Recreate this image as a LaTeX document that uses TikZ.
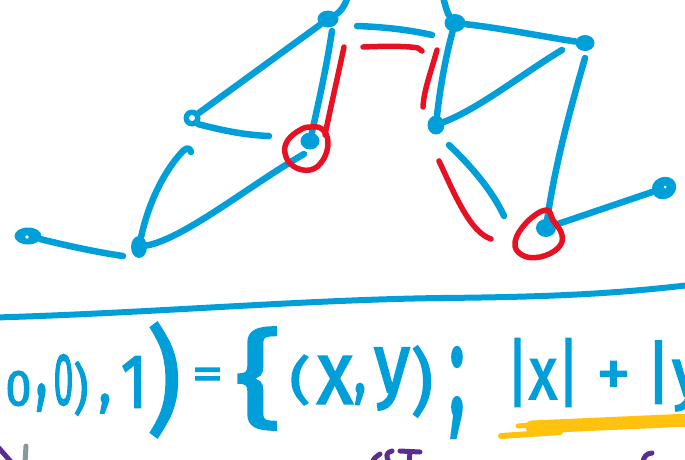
\documentclass[tikz,border=0pt]{standalone}
\usepackage{fontspec}
\newfontfamily\hwfont{Fira Sans}[FakeBold=2.5]
\definecolor{pen}{HTML}{009FDA}
\definecolor{penred}{HTML}{E81123}
\definecolor{penyel}{HTML}{FFC20E}
\definecolor{penpur}{HTML}{5C2D91}
\definecolor{pengray}{HTML}{8A969C}
% glyph resized to a box of width #1 and total height #2
\newcommand\gl[3]{\resizebox*{#1pt}{#2pt}{\hwfont\fontsize{50}{50}\selectfont #3}}
\tikzset{
 bl/.style={draw=pen, line width=6.5pt, line cap=round, line join=round},
 rd/.style={draw=penred, line width=5.5pt, line cap=round, line join=round},
 yl/.style={draw=penyel, line cap=round, line join=round},
 pu/.style={draw=penpur, line width=5pt, line cap=round, line join=round},
 gy/.style={draw=pengray, line width=5pt, line cap=round},
 vx/.style={ellipse, fill=pen, minimum width=19pt, minimum height=17pt, inner sep=0pt},
 hw/.style={text=pen, inner sep=0pt, anchor=center},
}
\usetikzlibrary{shapes.geometric}
\begin{document}
\begin{tikzpicture}[x=1pt,y=-1pt]
\useasboundingbox (0,0) rectangle (685,459);
\clip (0,0) rectangle (685,459);
% graph nodes
\node[vx, minimum width=21pt] (A) at (328,19) {};
\node[vx, minimum width=21pt, minimum height=18pt] (D) at (455,23) {};
\node[vx, minimum width=17pt, minimum height=17pt] (B) at (192,118) {};
\node[vx] (C) at (310,141) {};
\node[vx, minimum width=17pt, minimum height=19pt] (F) at (436,125) {};
\node[vx, minimum width=19pt, minimum height=16pt] (E) at (585,43) {};
\node[vx, minimum width=16pt, minimum height=22pt] (G) at (139,247) {};
\node[vx, minimum width=27pt, minimum height=17pt] (H) at (28,236) {};
\node[vx, minimum width=20pt, minimum height=18pt] (I) at (546,228) {};
\node[vx, minimum width=25pt, minimum height=22pt, rotate=25] (J) at (664,188) {};
\fill[white] (B.center) circle (3pt);
\fill[white] (H.center) ++(-1,1) circle (1.8pt);
\fill[white] (J.center) ++(1,-1) circle (1.5pt);
% free ends
\coordinate (atop) at (348,-4);
\coordinate (dtop) at (443,-4);
\coordinate (a1) at (332,31);
\coordinate (b1) at (269,136);
\coordinate (c1) at (304,154);
\coordinate (g1) at (191,152);
\coordinate (h1) at (123,256);
\coordinate (t1) at (357,26);
\coordinate (t2) at (432,35);
\coordinate (f1) at (562,50);
\coordinate (e1) at (585,58);
\coordinate (f2) at (449,145);
\coordinate (f3) at (504,216);
% blue strokes
\draw[bl] (A) .. controls (340,12) and (345,6) .. (atop);
\draw[bl] (D) .. controls (448,14) and (445,6) .. (dtop);
\draw[bl] (A) -- (B);
\draw[bl] (a1) .. controls (326,70) and (318,105) .. (C);
\draw[bl] (B.south east) .. controls (225,131) and (245,135) .. (b1);
\draw[bl] (c1) .. controls (250,185) and (185,238) .. (G);
\draw[bl] (G) .. controls (148,205) and (163,172) .. (183,151) .. controls (187,147) and (190,148) .. (g1);
\draw[bl] (H) .. controls (60,244) and (95,252) .. (h1);
\draw[bl] (t1) .. controls (385,27) and (410,30) .. (t2);
\draw[bl] (D) .. controls (500,28) and (540,36) .. (E);
\draw[bl] (D) .. controls (446,55) and (440,88) .. (F);
\draw[bl] (F) .. controls (480,108) and (525,72) .. (f1);
\draw[bl] (e1) .. controls (570,110) and (555,165) .. (I);
\draw[bl] (f2) .. controls (470,165) and (492,190) .. (f3);
\draw[bl] (I) -- (J);
% red strokes
\draw[rd] (344,47) .. controls (337,80) and (330,110) .. (325,135);
\draw[rd] (363,47) .. controls (385,46) and (408,46) .. (418,48) -- (422,51);
\draw[rd] (437,50) .. controls (430,75) and (424,90) .. (423,107);
\draw[rd] (439,161) .. controls (455,195) and (470,232) .. (491,239);
\draw[rd] plot[smooth cycle, tension=0.7] coordinates {(300,130) (288,140) (285,153) (293,166) (310,170) (323,160) (328,142) (322,129) (310,127)};
\draw[rd] plot[smooth cycle, tension=0.7] coordinates {(546,210) (527,222) (515,242) (522,255) (540,257) (558,248) (562,235) (553,220)};
% separator
\draw[bl, line width=6pt] (-5,317.5) .. controls (150,313) and (300,300) .. (440,298) .. controls (560,297) and (620,293) .. (690,285);
% formula
\node[hw] (n1) at (18.5,388.5) {\gl{26}{35}{0}};
\node[hw] (n2) at (41.5,397.5) {\gl{12}{27}{,}};
\node[hw] (n3) at (63.5,380) {\gl{20}{51}{0}};
\node[hw] (n4) at (81,388.5) {\gl{15}{54}{)}};
\node[hw] (n5) at (105,403.5) {\gl{13}{19}{,}};
\node[hw] (n6) at (134,382) {\gl{26}{51}{1}};
\node[hw] (n7) at (164,380) {\gl{34}{114}{)}};
\node[hw] (n8) at (207.5,378.5) {\gl{31}{21}{=}};
\node[hw] (n9) at (258.5,378.5) {\gl{46}{102}{\{}};
\node[hw] (n10) at (300,380) {\gl{21}{50}{(}};
\node[hw] (n11) at (335,380) {\gl{36}{47}{x}};
\node[hw] (n12) at (360,394) {\gl{13}{21}{,}};
\node[hw] (n13) at (392,379) {\gl{36}{62}{y}};
\node[hw] (n14) at (422,381.5) {\gl{22}{71}{)}};
\node[hw] (n15) at (457,392.5) {\gl{17}{90}{;}};
\node[hw] (n16) at (543,372.5) {\gl{74}{68}{|x|}};
\node[hw] (n17) at (613.5,378.5) {\gl{34}{34}{+}};
\node[hw] (n18) at (675,376) {\gl{60}{70}{|y}};
% highlight
\draw[yl, line width=13pt] (532,427) -- (690,420);
\draw[yl, line width=6pt] (501,436) -- (560,432);
\draw[yl, line width=5pt] (518,426) -- (540,424);
% cut-off strokes at the bottom edge
\draw[pu] (-2,447) -- (12,463);
\draw[gy] (26,446) -- (25,463);
\draw[pu] (380,454) .. controls (375,457) and (373,460) .. (372,463);
\draw[pu] (392,451) .. controls (386,452) and (385,457) .. (390,463);
\draw[pu] (400,451) -- (420,452);
\draw[pu] (410,452) -- (409,463);
\draw[pu] (652,453) .. controls (646,453) and (643,458) .. (643,463);
\end{tikzpicture}
\end{document}
